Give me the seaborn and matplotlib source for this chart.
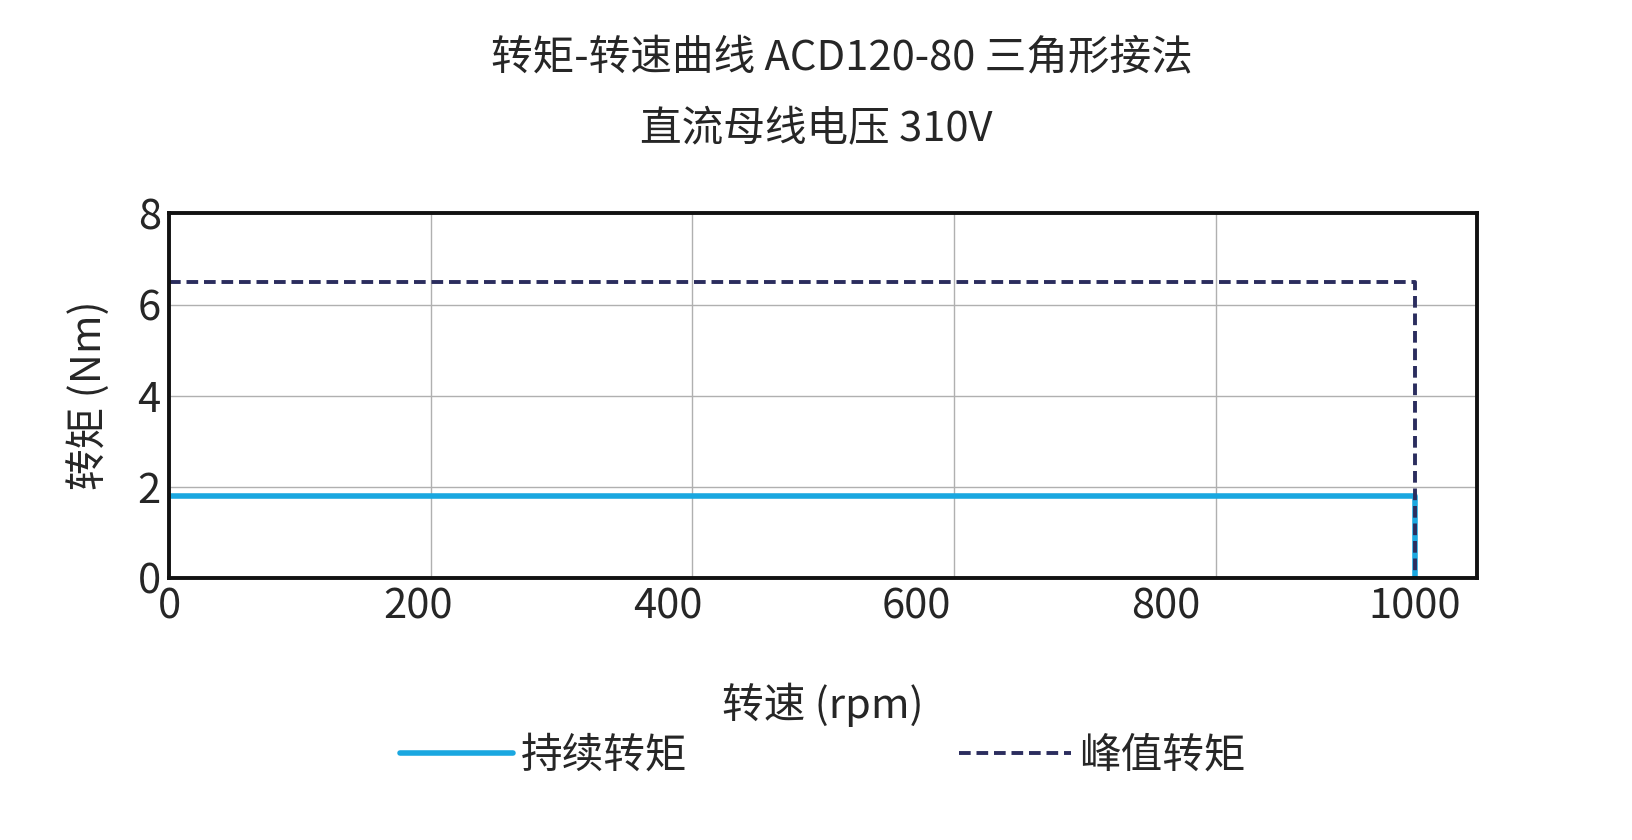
import numpy as np
import pandas as pd
import matplotlib
matplotlib.use('Agg')
import matplotlib.pyplot as plt
import seaborn as sns

# data
speed = [0, 1000, 1000]
cont_torque = [1.8, 1.8, 0]
peak_torque = [6.5, 6.5, 0]
x_ticks = [0, 200, 400, 600, 800, 1000]
y_ticks = [0, 2, 4, 6, 8]

sns.set_theme(style='white')
plt.rcParams['font.family'] = ['Noto Sans CJK SC', 'DejaVu Sans']

df = pd.DataFrame({'speed': speed, 'cont': cont_torque, 'peak': peak_torque})

fig = plt.figure(figsize=(16.32, 8.4), dpi=100)
ax = fig.add_axes([0.1036, 0.312, 0.8015, 0.434])

sns.lineplot(data=df, x='speed', y='cont', ax=ax, color='#1aa7e0', lw=4,
             sort=False, estimator=None, label='持续转矩')
sns.lineplot(data=df, x='speed', y='peak', ax=ax, color='#2b2d5e', lw=2.8,
             ls=(0, (3, 1.5)), sort=False, estimator=None, label='峰值转矩')

ax.set_xlim(0, 1050)
ax.set_ylim(0, 8)
ax.set_xticks(x_ticks)
ax.set_xticks([210, 420, 630, 840], minor=True)
ax.set_yticks(y_ticks)
ax.grid(False)
ax.grid(True, which='minor', axis='x', color='#b0b0b0', lw=1)
ax.grid(True, which='major', axis='y', color='#b0b0b0', lw=1)
ax.tick_params(labelsize=30, length=0, pad=6)
for s in ax.spines.values():
    s.set_color('#111111')
    s.set_linewidth(2.8)

ax.set_xlabel('转速 (rpm)', fontsize=30, labelpad=40)
ax.set_ylabel('转矩 (Nm)', fontsize=30, labelpad=20)

fig.text(0.516, 0.93, '转矩-转速曲线 ACD120-80 三角形接法', ha='center', va='center', fontsize=30)
fig.text(0.5, 0.845, '直流母线电压 310V', ha='center', va='center', fontsize=30)

ax.legend(loc='upper center', bbox_to_anchor=(0.5, -0.33), ncol=2, frameon=False,
          fontsize=30, handlelength=2.7, columnspacing=6.5, handletextpad=0.2)

fig.savefig('out.png', dpi=100, facecolor='white')
